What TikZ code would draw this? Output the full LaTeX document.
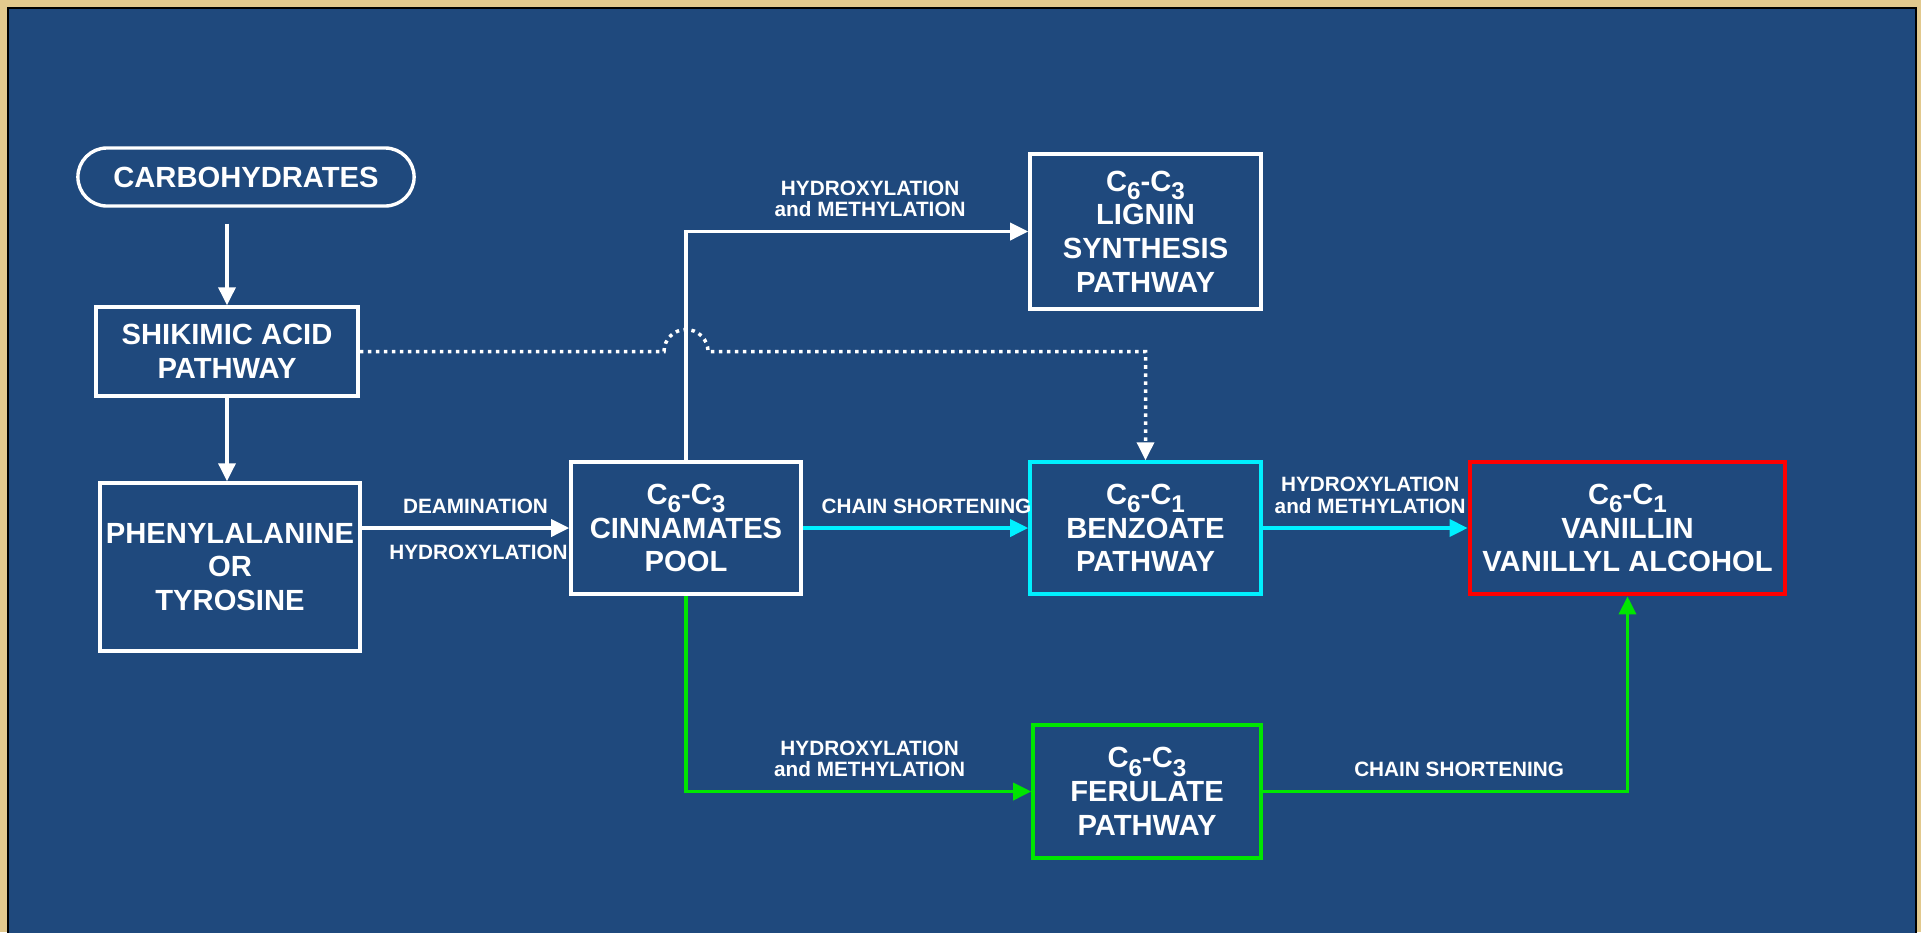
\documentclass[tikz,border=0pt]{standalone}
\usepackage{fontspec}
\setmainfont{Liberation Sans}
\usetikzlibrary{arrows.meta}
\definecolor{slideblue}{HTML}{1F497D}
\definecolor{parchment}{HTML}{E2C98E}
\definecolor{pathcyan}{HTML}{00F0FF}
\definecolor{pathgreen}{HTML}{00E600}
\definecolor{pathred}{HTML}{FF0000}
\newcommand{\csub}[1]{\raisebox{-0.28em}{\fontsize{6.9}{7}\selectfont#1}}

\begin{document}
\begin{tikzpicture}[x=0.01cm, y=-0.01cm, >={Triangle[length=0.18cm,width=0.17cm]},
box/.style={draw=white, line width=0.034cm, text=white, align=center, inner sep=0pt,
font=\fontsize{8.3}{9.6}\selectfont\bfseries},
tag/.style={text=white, inner sep=0pt, align=center,
font=\fontsize{5.9}{6.1}\selectfont\bfseries},
flow/.style={->, white, line width=0.035cm}]
  % slide background
  \useasboundingbox (0,0) rectangle (1921,932);
  \fill[parchment] (0,0) rectangle (1921,932);
  \draw[black, line width=0.02cm, fill=slideblue] (8,8) rectangle (1916,945);
  % start
  \node[box, rounded corners=0.29cm, minimum width=3.36cm, minimum height=0.58cm]
    (carbo) at (246,177) {CARBOHYDRATES};
  % column 1
  \node[box, minimum width=2.62cm, minimum height=0.89cm] (shikimic) at (227,351.5)
    {SHIKIMIC ACID\\PATHWAY};
  \node[box, minimum width=2.60cm, minimum height=1.68cm] (phenyl) at (230,567)
    {PHENYLALANINE\\OR\\TYROSINE};
  % column 2
  \node[box, minimum width=2.30cm, minimum height=1.32cm] (cinn) at (686,528)
    {C\csub{6}-C\csub{3}\\CINNAMATES\\POOL};
  % column 3
  \node[box, minimum width=2.31cm, minimum height=1.55cm] (lignin) at (1145.5,231.5)
    {C\csub{6}-C\csub{3}\\LIGNIN\\SYNTHESIS\\PATHWAY};
  \node[box, draw=pathcyan, minimum width=2.31cm, minimum height=1.32cm] (benzoate) at (1145.5,528)
    {C\csub{6}-C\csub{1}\\BENZOATE\\PATHWAY};
  \node[box, draw=pathgreen, minimum width=2.28cm, minimum height=1.33cm] (ferulate) at (1147,791.5)
    {C\csub{6}-C\csub{3}\\FERULATE\\PATHWAY};
  % product
  \node[box, draw=pathred, line width=0.046cm, minimum width=3.15cm, minimum height=1.32cm]
    (vanillin) at (1627.5,528)
    {C\csub{6}-C\csub{1}\\VANILLIN\\VANILLYL ALCOHOL};

  \draw[flow, shorten <=0.16cm] (carbo.south -| shikimic) -- (shikimic);
  \draw[flow] (shikimic.south) -- (shikimic.south |- phenyl.north);
  \draw[flow] (phenyl.east |- cinn) -- (cinn)
    node[tag, above=0.13cm, midway, xshift=0.1cm] {DEAMINATION}
    node[tag, below=0.15cm, midway, xshift=0.13cm] {HYDROXYLATION};
  \draw[flow] (cinn) |- (lignin)
    node[tag, above=0.13cm, pos=0.75, xshift=0.13cm] {HYDROXYLATION\\and METHYLATION};
  \draw[flow, pathcyan] (cinn) -- (benzoate)
    node[tag, above=0.13cm, midway, xshift=0.11cm] {CHAIN SHORTENING};
  \draw[flow, pathcyan] (benzoate) -- (vanillin)
    node[tag, above=0.13cm, midway, xshift=0.05cm] {HYDROXYLATION\\and METHYLATION};
  \draw[flow, pathgreen] (cinn) |- (ferulate)
    node[tag, above=0.13cm, pos=0.75, xshift=0.11cm] {HYDROXYLATION\\and METHYLATION};
  \draw[flow, pathgreen] (ferulate) -| (vanillin)
    node[tag, above=0.13cm, pos=0.25, xshift=0.14cm] {CHAIN SHORTENING};
  % dotted link hopping over the lignin line
  \draw[flow, dash pattern=on 0.035cm off 0.045cm] (shikimic)
    -- ([xshift=-0.22cm]cinn |- shikimic.east) arc[start angle=180, end angle=0, radius=0.22cm]
    -- (shikimic.east -| benzoate) -- (benzoate);
\end{tikzpicture}
\end{document}
